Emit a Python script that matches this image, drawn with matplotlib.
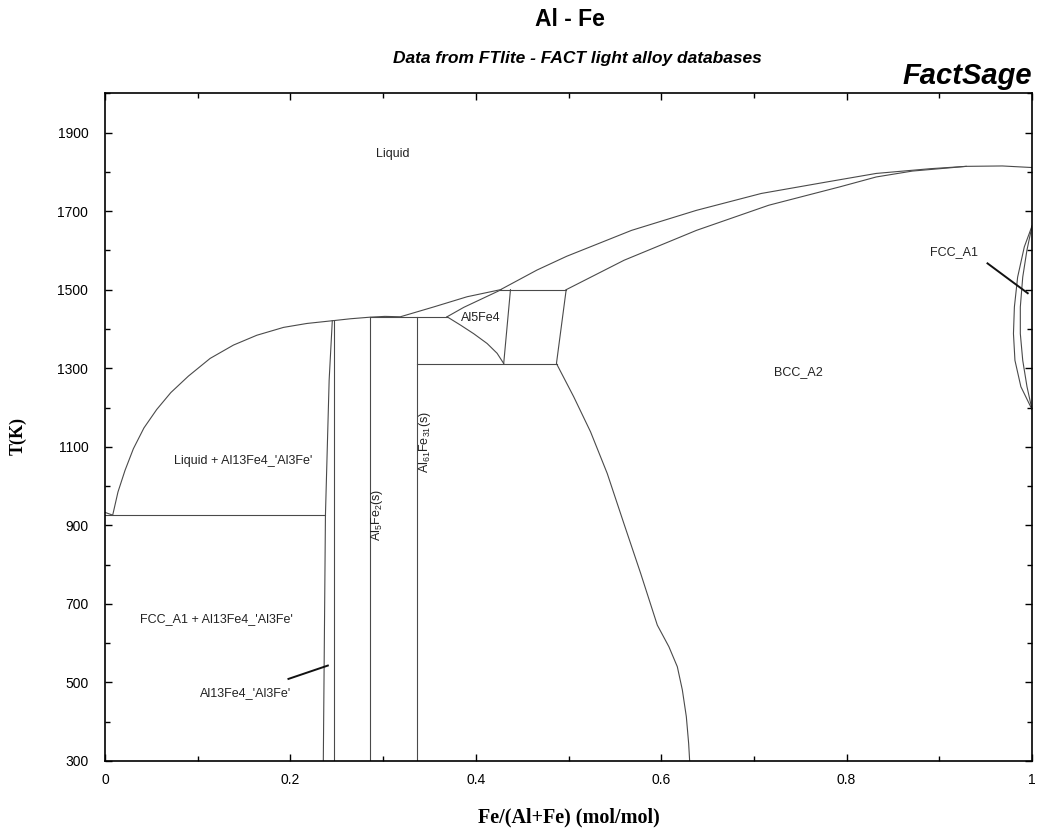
import matplotlib
matplotlib.use("Agg")
import matplotlib.pyplot as plt
from matplotlib.ticker import MultipleLocator

plt.rcParams['font.family'] = ['Liberation Sans', 'DejaVu Sans']
plt.rcParams['mathtext.fontset'] = 'custom'
plt.rcParams['mathtext.rm'] = 'Liberation Sans'
plt.rcParams['mathtext.it'] = 'Liberation Sans'
plt.rcParams['mathtext.bf'] = 'Liberation Sans:bold'

# ---- phase boundaries, x = Fe/(Al+Fe), T in K ----
liquidus_x = [0.0, 0.0083, 0.0140, 0.0216, 0.0306, 0.0420, 0.0558, 0.0710, 0.090,
              0.1134, 0.1386, 0.1638, 0.1926, 0.2178, 0.2455, 0.265, 0.286, 0.302,
              0.3186, 0.3545, 0.3906, 0.4266, 0.466, 0.498, 0.568, 0.638, 0.708,
              0.778, 0.832, 0.890, 0.929, 0.968, 1.0]
liquidus_T = [933, 926, 985, 1040, 1095, 1148, 1195, 1238, 1280,
              1325, 1359, 1384, 1404, 1414, 1421, 1426, 1430, 1432,
              1431, 1456, 1482, 1500, 1550, 1585, 1651, 1702, 1745,
              1774, 1796, 1808, 1814, 1815, 1811]

bcc_solidus_x = [0.4975, 0.560, 0.638, 0.716, 0.793, 0.832, 0.871, 0.910, 0.929]
bcc_solidus_T = [1500, 1575, 1651, 1715, 1762, 1787, 1802, 1810, 1814]

bcc_solvus_x = [0.4975, 0.4870, 0.5057, 0.5238, 0.5418, 0.5597, 0.5778, 0.5958,
                0.6083, 0.6174, 0.6228, 0.6271, 0.6296, 0.6307]
bcc_solvus_T = [1500, 1312, 1227, 1138, 1032, 905, 778, 646,
                591, 540, 481, 413, 345, 300]

al13fe4_left_x = [0.2355, 0.2378, 0.2418, 0.2452]
al13fe4_left_T = [300, 926, 1270, 1421]
al13fe4_right_x = [0.2472, 0.2472]
al13fe4_right_T = [300, 1421]

al5fe2_x = [0.2862, 0.2862]
al5fe2_T = [300, 1430]
al61fe31_x = [0.3366, 0.3366]
al61fe31_T = [300, 1430]

al5fe4_upper_x = [0.369, 0.387, 0.405, 0.4275]
al5fe4_upper_T = [1431, 1455, 1475, 1500]
al5fe4_lower_x = [0.369, 0.3834, 0.3977, 0.4122, 0.4230, 0.4301]
al5fe4_lower_T = [1431, 1410, 1388, 1363, 1338, 1312]
al5fe4_right_x = [0.4374, 0.4301]
al5fe4_right_T = [1500, 1312]

# invariant (horizontal) lines: start x, end x, T
invariant_x0 = [0.0, 0.2862, 0.3366, 0.4266]
invariant_x1 = [0.2378, 0.369, 0.4877, 0.4975]
invariant_T = [926, 1430, 1312, 1500]

# gamma loop on the Fe side
fcc_outer_x = [1.0, 0.9917, 0.9845, 0.9810, 0.9800, 0.9816, 0.9880, 1.0]
fcc_outer_T = [1662, 1609, 1532, 1456, 1388, 1320, 1253, 1195]
fcc_inner_x = [1.0, 0.9945, 0.9900, 0.9874, 0.9874, 0.9900, 0.9946, 1.0]
fcc_inner_T = [1662, 1600, 1532, 1456, 1388, 1320, 1253, 1195]

x_ticks = [0, 0.2, 0.4, 0.6, 0.8, 1]
x_tick_labels = ['0', '0.2', '0.4', '0.6', '0.8', '1']
y_ticks = [300, 500, 700, 900, 1100, 1300, 1500, 1700, 1900]

fig = plt.figure(figsize=(10.37, 8.34), dpi=100)
ax = fig.add_axes([105 / 1037, 1 - 761 / 834, 927 / 1037, (761 - 93.3) / 834])

line_kw = dict(color='#4a4a4a', lw=0.8)
ax.plot(liquidus_x, liquidus_T, **line_kw)
ax.plot(bcc_solidus_x, bcc_solidus_T, **line_kw)
ax.plot(bcc_solvus_x, bcc_solvus_T, **line_kw)
ax.plot(al13fe4_left_x, al13fe4_left_T, **line_kw)
ax.plot(al13fe4_right_x, al13fe4_right_T, **line_kw)
ax.plot(al5fe2_x, al5fe2_T, **line_kw)
ax.plot(al61fe31_x, al61fe31_T, **line_kw)
ax.plot(al5fe4_upper_x, al5fe4_upper_T, **line_kw)
ax.plot(al5fe4_lower_x, al5fe4_lower_T, **line_kw)
ax.plot(al5fe4_right_x, al5fe4_right_T, **line_kw)
for x0, x1, t in zip(invariant_x0, invariant_x1, invariant_T):
    ax.plot([x0, x1], [t, t], **line_kw)
ax.plot(fcc_outer_x, fcc_outer_T, **line_kw)
ax.plot(fcc_inner_x, fcc_inner_T, **line_kw)

# region labels
lab = dict(fontsize=9, ha='center', va='center', color='#222222')
ax.text(0.31, 1845, 'Liquid', **lab)
ax.text(0.1486, 1063, "Liquid + Al13Fe4_'Al3Fe'", **lab)
ax.text(0.1197, 661, "FCC_A1 + Al13Fe4_'Al3Fe'", **lab)
ax.text(0.1513, 472, "Al13Fe4_'Al3Fe'", **lab)
ax.text(0.4059, 1427, 'Al5Fe4', **lab)
ax.text(0.748, 1290, 'BCC_A2', **lab)
ax.text(0.9158, 1596, 'FCC_A1', **lab)
ax.text(0.2933, 926, r'Al$_5$Fe$_2$(s)', rotation=90, **lab)
ax.text(0.3456, 1113, r'Al$_{61}$Fe$_{31}$(s)', rotation=90, **lab)

# pointer lines
ax.plot([0.1979, 0.2404], [509, 543], color='#111111', lw=1.4)
ax.plot([0.952, 0.9954], [1567, 1491], color='#111111', lw=1.4)

ax.set_xlim(0, 1)
ax.set_ylim(300, 2000)
ax.set_xticks(x_ticks)
ax.set_xticklabels(x_tick_labels)
ax.set_yticks(y_ticks)
ax.xaxis.set_minor_locator(MultipleLocator(0.1))
ax.yaxis.set_minor_locator(MultipleLocator(100))
ax.tick_params(which='both', direction='in', top=True, right=True, labelsize=10)
ax.tick_params(which='major', length=5, width=1.0)
ax.tick_params(which='minor', length=3.5, width=1.0)
ax.tick_params(axis='x', which='major', pad=9)
ax.tick_params(axis='y', which='major', pad=12)
for s in ax.spines.values():
    s.set_linewidth(1.2)

ax.set_xlabel('Fe/(Al+Fe) (mol/mol)', family='Liberation Serif', fontweight='bold',
              fontsize=14.5)
ax.xaxis.set_label_coords(0.5, -0.085)
ax.xaxis.label.set_va('center')
ax.set_ylabel('T(K)', family='Liberation Serif', fontweight='bold', fontsize=13)
ax.yaxis.set_label_coords(-0.094, 0.487)
ax.yaxis.label.set_va('center')

fig.text(570 / 1037, 1 - 20 / 834, 'Al - Fe', ha='center', va='center',
         fontsize=16.5, fontweight='bold')
fig.text(577 / 1037, 1 - 58 / 834, 'Data from FTlite - FACT light alloy databases',
         ha='center', va='center', fontsize=12.5, fontweight='bold', style='italic')
fig.text(1032 / 1037, 1 - 76 / 834, 'FactSage', ha='right', va='center',
         fontsize=21, fontweight='bold', style='italic')

fig.savefig('out.png', dpi=100)
